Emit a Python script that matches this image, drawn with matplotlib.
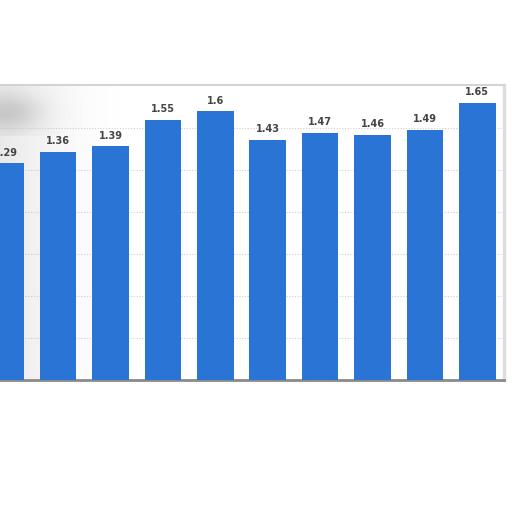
import numpy as np
import matplotlib
matplotlib.use("Agg")
import matplotlib.pyplot as plt

# values, left to right (first bar is cut off by the crop)
values = [1.29, 1.36, 1.39, 1.55, 1.6, 1.43, 1.47, 1.46, 1.49, 1.65]
labels = ["1.29", "1.36", "1.39", "1.55", "1.6", "1.43", "1.47", "1.46", "1.49", "1.65"]
grid_levels = [0.25, 0.5, 0.75, 1.0, 1.25, 1.5]

bar_color = "#2a74d6"
text_color = "#444444"

fig = plt.figure(figsize=(5.12, 5.12), dpi=100)
fig.patch.set_facecolor("white")

# plot area: x from 0 to 504 px, y from 85 to 380 px (from top)
ax = fig.add_axes([0.0, 132 / 512, 504 / 512, 295 / 512])
ax.set_facecolor("white")

x = np.arange(len(values))
ax.bar(x, values, width=0.7, color=bar_color, zorder=3)

for xi, v, lab in zip(x, values, labels):
    ax.annotate(lab, (xi, v), xytext=(0, 4), textcoords="offset points",
                ha="center", va="bottom", fontsize=7, fontweight="bold",
                color=text_color, zorder=4)

for g in grid_levels:
    ax.axhline(g, color="#cfcfcf", lw=0.8, ls=(0, (1, 1.5)), zorder=1)

ax.spines["left"].set_visible(False)
ax.spines["top"].set_color("#d4d4d4")
ax.spines["top"].set_linewidth(1.5)
ax.spines["right"].set_color("#dddddd")
ax.spines["right"].set_linewidth(2.5)
ax.spines["bottom"].set_color("#8a8a8a")
ax.spines["bottom"].set_linewidth(2)
ax.set_xticks([])
ax.set_yticks([])

# blurry grey haze on the left part of the screenshot
haze = np.linspace(0.5, 0.0, 200)[None, :] ** 1.6
rgba = np.zeros((1, 200, 4))
rgba[..., :3] = 0.74
rgba[..., 3] = haze
ax.imshow(rgba, extent=(-0.11, 2.3, 0, 1.756), aspect="auto", zorder=2.5,
          interpolation="bilinear")

# soft grey smudge in the top-left corner
gx, gy = np.meshgrid(np.linspace(0, 1, 120), np.linspace(0, 1, 60))
r2 = ((gx - 0.08) / 0.55) ** 2 + ((gy - 0.45) / 0.55) ** 2
blob = np.zeros((60, 120, 4))
blob[..., :3] = 0.74
blob[..., 3] = 0.75 * np.exp(-r2 * 2.2)
ax.imshow(blob, extent=(-0.11, 1.6, 1.45, 1.756), aspect="auto", zorder=2.6,
          interpolation="bilinear", origin="lower")

ax.set_xlim(-0.11, 9.51)
ax.set_ylim(0, 1.756)

fig.savefig("out.png", dpi=100, facecolor="white")
